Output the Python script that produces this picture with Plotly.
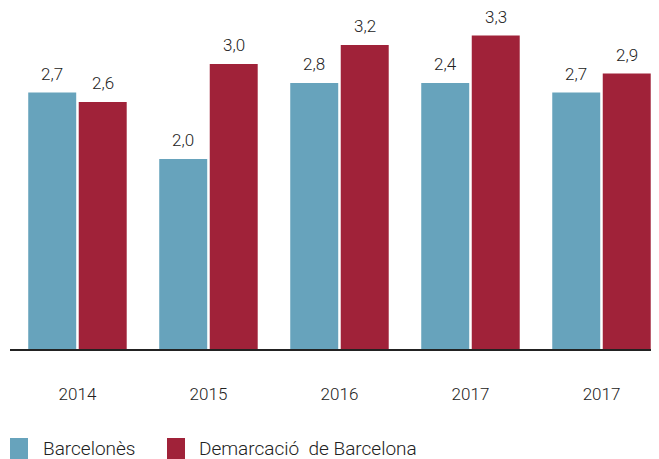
import plotly.graph_objects as go

years = ["2014", "2015", "2016", "2017", "2017"]
positions = [0, 1, 2, 3, 4]
barcelones_values = [2.7, 2.0, 2.8, 2.8, 2.7]
barcelones_labels = ["2,7", "2,0", "2,8", "2,4", "2,7"]
demarcacio_values = [2.6, 3.0, 3.2, 3.3, 2.9]
demarcacio_labels = ["2,6", "3,0", "3,2", "3,3", "2,9"]
series_names = ["Barcelonès", "Demarcació  de Barcelona"]
colors = ["#67A3BC", "#A02239"]

FONT = "Roboto"
TXT = "#222222"
BARGAP = 0.229

# page has an 8px body margin; figure is laid out accordingly
W, H = 651, 451
ML, MB = 2, 110
PW, PH = W - ML, H - MB

fig = go.Figure()
fig.add_trace(go.Bar(x=positions, y=barcelones_values,
                     name=series_names[0], marker_color=colors[0], marker_line_width=0))
fig.add_trace(go.Bar(x=positions, y=demarcacio_values,
                     name=series_names[1], marker_color=colors[1], marker_line_width=0))

# value labels placed above each bar
slot = (1 - BARGAP) / 2
for vals, labs, off in ((barcelones_values, barcelones_labels, -slot / 2),
                        (demarcacio_values, demarcacio_labels, slot / 2)):
    for p, v, t in zip(positions, vals, labs):
        fig.add_annotation(x=p + off, y=v, text=t, showarrow=False,
                           xanchor="center", yanchor="bottom", yshift=7,
                           font=dict(family=FONT, size=17, color=TXT, weight=300))

fig.update_layout(
    width=W, height=H,
    margin=dict(l=ML, r=0, t=0, b=MB),
    paper_bgcolor="white", plot_bgcolor="white",
    barmode="group", bargap=BARGAP, bargroupgap=0.05,
    showlegend=False,
    font=dict(family=FONT, color=TXT),
    xaxis=dict(range=[-0.515, 4.439], tickvals=positions, ticktext=years,
               showline=True, linecolor="#222222", linewidth=1.5,
               showgrid=False, zeroline=False, ticks="",
               ticklabelstandoff=29,
               tickfont=dict(family=FONT, size=17, color=TXT, weight=300)),
    yaxis=dict(range=[0, PH / 95], visible=False, showgrid=False, zeroline=False),
)

# legend drawn manually (page coordinates minus 8px body margin)
legend_items = [(10, 41), (167, 197)]
for (sx, tx), name, col in zip(legend_items, series_names, colors):
    sx -= 8
    tx -= 8
    fig.add_shape(type="rect", xref="paper", yref="paper",
                  x0=(sx - ML) / PW, x1=(sx + 18 - ML) / PW,
                  y0=(PH - 451) / PH, y1=(PH - 430) / PH,
                  fillcolor=col, line_width=0)
    fig.add_annotation(xref="paper", yref="paper",
                       x=(tx - ML) / PW, y=(PH - 440) / PH,
                       xanchor="left", yanchor="middle", showarrow=False,
                       text=name, font=dict(family=FONT, size=19, color=TXT, weight=300))

fig.write_html("out.html")
